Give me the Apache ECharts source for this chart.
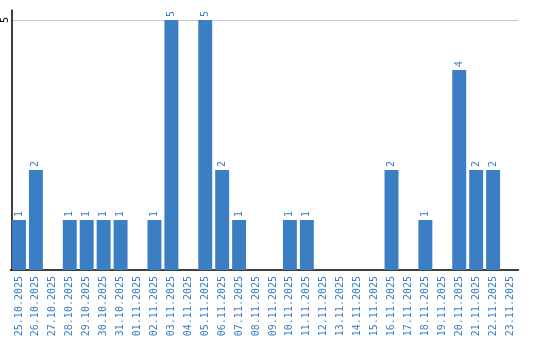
<!DOCTYPE html>
<html><head><meta charset="utf-8">
<script src="https://cdn.jsdelivr.net/npm/echarts@6/dist/echarts.min.js"></script>
<style>html,body{margin:0;padding:0;background:#fff}#c{width:540px;height:340px}</style>
</head><body><div id="c"></div>
<script>
const categories = ["25.10.2025","26.10.2025","27.10.2025","28.10.2025","29.10.2025","30.10.2025","31.10.2025","01.11.2025","02.11.2025","03.11.2025","04.11.2025","05.11.2025","06.11.2025","07.11.2025","08.11.2025","09.11.2025","10.11.2025","11.11.2025","12.11.2025","13.11.2025","14.11.2025","15.11.2025","16.11.2025","17.11.2025","18.11.2025","19.11.2025","20.11.2025","21.11.2025","22.11.2025","23.11.2025"];
const values = [1,2,0,1,1,1,1,0,1,5,0,5,2,1,0,0,1,1,0,0,0,0,2,0,1,0,4,2,2,0];
const yTicks = [5];
const blue = '#3b7ec3';
const chart = echarts.init(document.getElementById('c'), null, {renderer:'canvas'});
chart.setOption({
  animation:false,
  grid:{left:8.5,right:21.5,top:10,bottom:70,containLabel:false},
  xAxis:{type:'category',data:categories,
    axisLine:{lineStyle:{color:'#000',width:1.5}},
    axisTick:{show:false},
    axisLabel:{rotate:90,color:blue,fontFamily:'DejaVu Sans Mono',fontSize:10,margin:6,interval:0}},
  yAxis:{type:'value',min:0,max:5.2,interval:5,offset:-1.5,
    axisLine:{show:true,lineStyle:{color:'#000',width:1.5}},
    axisTick:{show:false},
    splitLine:{showMaxLine:false,showMinLine:false,lineStyle:{color:'#c8c8c8',width:1}},
    axisLabel:{rotate:90,color:'#000',fontFamily:'DejaVu Sans Mono',fontSize:10,margin:2,
      formatter:v=>yTicks.includes(v)?String(v):'' ,showMaxLabel:false}},
  series:[{type:'bar',data:values,barCategoryGap:'17.6%',
    itemStyle:{color:blue},
    label:{show:true,position:'top',rotate:90,align:'left',verticalAlign:'middle',distance:3,
      color:blue,fontFamily:'DejaVu Sans Mono',fontSize:10,
      formatter:p=>p.value?String(p.value):''}}]
});
</script></body></html>
